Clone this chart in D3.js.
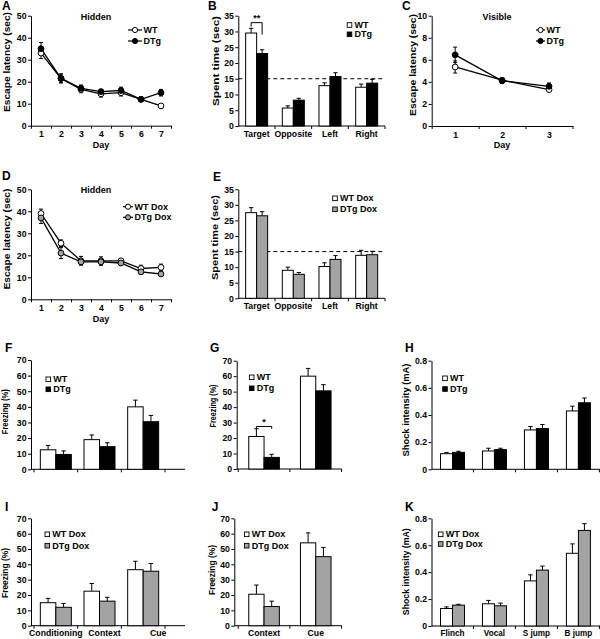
<!DOCTYPE html>
<html><head><meta charset="utf-8">
<script src="https://cdn.jsdelivr.net/npm/d3@7"></script>
<style>
body{margin:0;background:#fff}
svg{display:block;font-family:"Liberation Sans",Arial,sans-serif;font-weight:bold}
</style>
</head><body>
<svg id="c" width="600" height="639"></svg>
<script>
// ---------- DATA ----------
const days7 = [1,2,3,4,5,6,7];
const days3 = [1,2,3];
const hiddenWT = [33, 21.5, 16.5, 14.5, 15, 12, 9];
const hiddenWTErr = [2.5, 2, 1.5, 1.5, 1.5, 1, 0.5];
const hiddenDTg = [35, 21.5, 17, 15.5, 16, 12, 15];
const hiddenDTgErr = [2.8, 2, 1.5, 1, 1.5, 1, 1.5];
const visibleWT = [5.35, 4.15, 3.3];
const visibleWTErr = [0.55, 0.2, 0.15];
const visibleDTg = [6.45, 4.1, 3.6];
const visibleDTgErr = [0.7, 0.25, 0.3];
const hiddenDoxWT = [39, 25.5, 17.5, 17.5, 17.5, 14, 14.5];
const hiddenDoxWTErr = [2, 1.5, 2, 1.8, 1, 1.5, 1.5];
const hiddenDoxDTg = [37, 21, 17, 17, 16.5, 12.5, 11.5];
const hiddenDoxDTgErr = [2.5, 2.5, 1.2, 1.5, 1, 1, 1];

const quadrants = ['Target','Opposite','Left','Right'];
const probeWT = [29.5, 5.7, 12.8, 12.3];
const probeWTErr = [1.5, 0.7, 0.9, 1];
const probeDTg = [23, 8.2, 15.7, 13.6];
const probeDTgErr = [1.2, 0.6, 1.2, 1.2];
const probeDoxWT = [27.5, 9, 10.2, 13.8];
const probeDoxWTErr = [1.6, 1, 1.2, 1.6];
const probeDoxDTg = [26.5, 7.7, 12.5, 14];
const probeDoxDTgErr = [1.3, 0.6, 1.2, 1.1];

const fearCats = ['Conditioning','Context','Cue'];
const fearWT = [12.5, 19, 40];
const fearWTErr = [2.8, 3, 4.3];
const fearDTg = [9.5, 14.5, 30.5];
const fearDTgErr = [2.3, 2.5, 4];
const fear2Cats = ['Context','Cue'];
const fear2WT = [21, 60];
const fear2WTErr = [5, 5];
const fear2DTg = [7.5, 50.5];
const fear2DTgErr = [2, 4];
const shockCats = ['Flinch','Vocal','S jump','B jump'];
const shockWT = [0.115, 0.135, 0.29, 0.43];
const shockWTErr = [0.008, 0.02, 0.025, 0.035];
const shockDTg = [0.125, 0.145, 0.3, 0.49];
const shockDTgErr = [0.008, 0.01, 0.03, 0.035];

const fearDoxWT = [15, 22.5, 36.5];
const fearDoxWTErr = [2.8, 5, 5.5];
const fearDoxDTg = [12, 16, 35.5];
const fearDoxDTgErr = [2.5, 2.5, 5];
const fear2DoxWT = [20.5, 54];
const fear2DoxWTErr = [6, 6.5];
const fear2DoxDTg = [12.5, 45];
const fear2DoxDTgErr = [3.5, 6];
const shockDoxWT = [0.13, 0.165, 0.335, 0.54];
const shockDoxWTErr = [0.012, 0.025, 0.045, 0.07];
const shockDoxDTg = [0.155, 0.15, 0.415, 0.71];
const shockDoxDTgErr = [0.006, 0.02, 0.03, 0.05];

const ticks50 = [0,10,20,30,40,50];
const ticks10 = [0,2,4,6,8,10];
const ticks35 = [0,5,10,15,20,25,30,35];
const ticks70 = [0,10,20,30,40,50,60,70];
const ticks08 = [0,0.2,0.4,0.6,0.8];

// ---------- STYLE ----------
const GRAY = '#a3a3a3';
const TICKFS = 8.7;
const svg = d3.select('#c');

function styleAxis(g, fs) {
  g.attr('font-family', null).attr('font-size', null);
  g.selectAll('text').attr('font-size', fs).attr('fill', '#000');
  g.select('.domain').attr('stroke', '#000');
  g.selectAll('.tick line').attr('stroke', '#000');
}

function yLabel(g, c) {
  g.append('text').attr('transform', `translate(${c.ylx},${c.yly}) rotate(-90)`)
    .attr('text-anchor', 'middle').attr('dy', '0.35em')
    .attr('font-size', c.ylfs || 9.5)
    .attr('textLength', c.yllen).attr('lengthAdjust', 'spacingAndGlyphs')
    .text(c.ylabel);
}
function letter(g, c) {
  g.append('text').attr('x', c.lx).attr('y', c.ly).attr('font-size', 12).text(c.letter);
}

// ---------- LINE PANELS ----------
function linePanel(c) {
  const g = svg.append('g');
  const n = c.days.length;
  const x = d3.scaleLinear().domain([0.5, n + 0.5]).range([c.x0, c.x1]);
  const y = d3.scaleLinear().domain([0, c.ymax]).range([c.yb, c.yt]);
  const ya = g.append('g').attr('transform', `translate(${c.x0},0)`)
    .call(d3.axisLeft(y).tickValues(c.yticks).tickSize(3).tickSizeOuter(0).tickPadding(1.5));
  styleAxis(ya, TICKFS);
  const xa = g.append('g').attr('transform', `translate(0,${c.yb})`)
    .call(d3.axisBottom(x).tickValues(d3.range(0.5, n + 1, 1)).tickSize(3).tickSizeOuter(0).tickFormat(''));
  styleAxis(xa, TICKFS);
  const xl = g.append('g').attr('transform', `translate(0,${c.yb})`)
    .call(d3.axisBottom(x).tickValues(c.days).tickSize(0).tickPadding(5.5).tickFormat(d3.format('d')));
  xl.select('.domain').remove();
  styleAxis(xl, TICKFS);
  g.append('text').attr('x', x((n + 1) / 2)).attr('y', c.yb + 22.3).attr('text-anchor', 'middle')
    .attr('font-size', 9).text('Day');
  g.append('text').attr('x', c.tx).attr('y', c.ty).attr('text-anchor', 'middle')
    .attr('font-size', 9).text(c.title);
  yLabel(g, c);
  letter(g, c);
  const line = d3.line().x((d, i) => x(c.days[i])).y(d => y(d));
  c.series.forEach(s => {
    g.append('path').datum(s.values).attr('d', line).attr('fill', 'none')
      .attr('stroke', s.stroke).attr('stroke-width', 1.3);
  });
  c.series.forEach(s => {
    s.values.forEach((v, i) => {
      const xx = x(c.days[i]);
      g.append('line').attr('x1', xx).attr('x2', xx).attr('y1', y(v - s.err[i])).attr('y2', y(v + s.err[i]))
        .attr('stroke', '#000').attr('stroke-width', 1);
      [v - s.err[i], v + s.err[i]].forEach(e => {
        g.append('line').attr('x1', xx - 2).attr('x2', xx + 2).attr('y1', y(e)).attr('y2', y(e))
          .attr('stroke', '#000').attr('stroke-width', 1);
      });
    });
  });
  c.series.forEach(s => {
    g.selectAll(null).data(s.values).enter().append('circle')
      .attr('cx', (d, i) => x(c.days[i])).attr('cy', d => y(d)).attr('r', 2.9)
      .attr('fill', s.fill).attr('stroke', '#000').attr('stroke-width', 1);
  });
  // legend
  c.series.forEach((s, i) => {
    const ly = c.legY[i];
    g.append('line').attr('x1', c.legX).attr('x2', c.legX + c.legW).attr('y1', ly).attr('y2', ly)
      .attr('stroke', '#000').attr('stroke-width', 1.2);
    g.append('circle').attr('cx', c.legX + c.legW / 2).attr('cy', ly).attr('r', 2.6)
      .attr('fill', s.fill).attr('stroke', '#000').attr('stroke-width', 1);
    g.append('text').attr('x', c.legX + c.legW + 1.5).attr('y', ly).attr('dy', '0.35em')
      .attr('font-size', 9).text(s.name);
  });
}

// ---------- BAR PANELS ----------
function barPanel(c) {
  const g = svg.append('g');
  const x = d3.scaleBand().domain(c.cats).range([c.r0, c.r1]);
  const y = d3.scaleLinear().domain([0, c.ymax]).range([c.yb, c.yt]);
  const ya = g.append('g').attr('transform', `translate(${c.x0},0)`)
    .call(d3.axisLeft(y).tickValues(c.yticks).tickSize(3).tickSizeOuter(0).tickPadding(1.5)
      .tickFormat(c.yfmt || d3.format('d')));
  styleAxis(ya, TICKFS);
  g.append('line').attr('x1', c.x0).attr('x2', c.xEnd).attr('y1', c.yb).attr('y2', c.yb).attr('stroke', '#000');
  const bounds = c.cats.map(k => x(k)).concat([c.r1]).filter(v => v > c.x0 + 1);
  bounds.forEach(b => g.append('line').attr('x1', b).attr('x2', b).attr('y1', c.yb).attr('y2', c.yb + 3).attr('stroke', '#000'));
  const clipId = 'clip' + c.letter;
  if (c.clipY) {
    g.append('clipPath').attr('id', clipId).append('rect').attr('x', c.x0 - 40).attr('y', c.yb)
      .attr('width', 260).attr('height', c.clipY - c.yb);
  }
  const xl = g.append('g').attr('transform', `translate(0,${c.yb})`)
    .call(d3.axisBottom(x).tickSize(0).tickPadding(4.5));
  xl.select('.domain').remove();
  styleAxis(xl, c.xfs || TICKFS);
  if (c.labelDx) xl.selectAll('.tick text').attr('dx', (d, i) => c.labelDx[i]);
  if (c.clipY) xl.attr('clip-path', `url(#${clipId})`);
  yLabel(g, c);
  letter(g, c);
  if (c.refLine != null) {
    g.append('line').attr('x1', c.x0).attr('x2', c.xEnd).attr('y1', y(c.refLine)).attr('y2', y(c.refLine))
      .attr('stroke', '#000').attr('stroke-width', 1).attr('stroke-dasharray', '4,3');
  }
  c.series.forEach((s, si) => {
    s.values.forEach((v, i) => {
      const cx = x(c.cats[i]) + x.bandwidth() / 2;
      const bx = si === 0 ? cx - c.bw : cx;
      const mid = bx + c.bw / 2;
      g.append('line').attr('x1', mid).attr('x2', mid).attr('y1', y(v)).attr('y2', y(v + s.err[i]))
        .attr('stroke', '#000').attr('stroke-width', 1);
      g.append('line').attr('x1', mid - 2.2).attr('x2', mid + 2.2).attr('y1', y(v + s.err[i])).attr('y2', y(v + s.err[i]))
        .attr('stroke', '#000').attr('stroke-width', 1);
      g.append('rect').attr('x', bx).attr('y', y(v)).attr('width', c.bw).attr('height', y(0) - y(v))
        .attr('fill', s.fill).attr('stroke', '#000').attr('stroke-width', 1);
    });
  });
  // legend
  c.series.forEach((s, i) => {
    const ly = c.legY[i];
    g.append('rect').attr('x', c.legX - 2.3).attr('y', ly - 2.3).attr('width', 4.6).attr('height', 4.6)
      .attr('fill', s.fill).attr('stroke', '#000').attr('stroke-width', 0.9);
    g.append('text').attr('x', c.legX + 5).attr('y', ly).attr('dy', '0.35em').attr('font-size', 9).text(s.name);
  });
  // significance
  if (c.sig) {
    const s = c.sig;
    const cx = x(s.cat) + x.bandwidth() / 2;
    const xa1 = cx - c.bw / 2, xa2 = cx + c.bw / 2;
    const top = y(s.level);
    g.append('path').attr('d', `M${xa1},${y(s.leftEnd)}V${top}H${xa2}V${y(s.rightEnd)}`)
      .attr('fill', 'none').attr('stroke', '#000').attr('stroke-width', 1);
    g.append('text').attr('x', cx).attr('y', top - 1.5).attr('text-anchor', 'middle').attr('font-size', 9).text(s.mark);
  }
}

const fmt08 = d => d === 0 ? '0' : d3.format('.1f')(d);

// A
linePanel({letter:'A', lx:2, ly:10, title:'Hidden', tx:96, ty:20, days:days7,
  x0:31, x1:171, yb:125.7, yt:15.7, ymax:50, yticks:ticks50,
  ylabel:'Escape latency (sec)', ylx:6.5, yly:62, yllen:100,
  legX:128, legW:14, legY:[30, 41],
  series:[{name:'WT', values:hiddenWT, err:hiddenWTErr, fill:'#fff', stroke:'#000'},
          {name:'DTg', values:hiddenDTg, err:hiddenDTgErr, fill:'#000', stroke:'#000'}]});
// C
linePanel({letter:'C', lx:402, ly:10, title:'Visible', tx:497, ty:20, days:days3,
  x0:431.7, x1:572.5, yb:126, yt:15.7, ymax:10, yticks:ticks10,
  ylabel:'Escape latency (sec)', ylx:413, yly:65, yllen:102,
  legX:536, legW:9, legY:[30, 41],
  series:[{name:'WT', values:visibleWT, err:visibleWTErr, fill:'#fff', stroke:'#000'},
          {name:'DTg', values:visibleDTg, err:visibleDTgErr, fill:'#000', stroke:'#000'}]});
// D
linePanel({letter:'D', lx:2, ly:180, title:'Hidden', tx:96, ty:193, days:days7,
  x0:31, x1:171, yb:299.3, yt:189.3, ymax:50, yticks:ticks50,
  ylabel:'Escape latency (sec)', ylx:6.5, yly:239, yllen:101,
  legX:123, legW:10, legY:[206.7, 217.3],
  series:[{name:'WT Dox', values:hiddenDoxWT, err:hiddenDoxWTErr, fill:'#fff', stroke:'#000'},
          {name:'DTg Dox', values:hiddenDoxDTg, err:hiddenDoxDTgErr, fill:GRAY, stroke:'#000'}]});

// B
barPanel({letter:'B', lx:208, ly:10, cats:quadrants, x0:238.3, r0:238.3, r1:385, xEnd:385,
  yb:126, yt:15.7, ymax:35, yticks:ticks35, bw:11, refLine:15,
  ylabel:'Spent time (sec)', ylx:215.7, yly:61, yllen:90,
  legX:349.5, legY:[25, 34.3],
  sig:{cat:'Target', level:32.8, leftEnd:31.5, rightEnd:29, mark:'**'},
  series:[{name:'WT', values:probeWT, err:probeWTErr, fill:'#fff'},
          {name:'DTg', values:probeDTg, err:probeDTgErr, fill:'#000'}]});
// E
barPanel({letter:'E', lx:213, ly:181, cats:quadrants, x0:238.3, r0:238.3, r1:385, xEnd:385,
  yb:298.3, yt:189.3, ymax:35, yticks:ticks35, bw:11, refLine:15,
  ylabel:'Spent time (sec)', ylx:215, yly:237.5, yllen:85,
  legX:335, legY:[198.3, 209.3],
  series:[{name:'WT Dox', values:probeDoxWT, err:probeDoxWTErr, fill:'#fff'},
          {name:'DTg Dox', values:probeDoxDTg, err:probeDoxDTgErr, fill:GRAY}]});
// F
barPanel({letter:'F', lx:5, ly:352, cats:fearCats, x0:31, r0:34, r1:165, xEnd:185,
  yb:469.3, yt:360, ymax:70, yticks:ticks70, bw:15.5, clipY:480, labelDx:[0, 5, 15],
  ylabel:'Freezing (%)', ylx:5.5, yly:411.7, yllen:45, ylfs:8.5,
  legX:48.3, legY:[379.3, 389.3],
  series:[{name:'WT', values:fearWT, err:fearWTErr, fill:'#fff'},
          {name:'DTg', values:fearDTg, err:fearDTgErr, fill:'#000'}]});
// G
barPanel({letter:'G', lx:210, ly:352, cats:fear2Cats, x0:236.7, r0:238.2, r1:341.6, xEnd:341.7,
  yb:469, yt:360.7, ymax:70, yticks:ticks70, bw:15.3, clipY:480,
  ylabel:'Freezing (%)', ylx:213.3, yly:406, yllen:43, ylfs:8.5,
  legX:251.7, legY:[377.3, 388.3],
  sig:{cat:'Context', level:27.5, leftEnd:26, rightEnd:26, mark:'*'},
  series:[{name:'WT', values:fear2WT, err:fear2WTErr, fill:'#fff'},
          {name:'DTg', values:fear2DTg, err:fear2DTgErr, fill:'#000'}]});
// H
barPanel({letter:'H', lx:405, ly:352, cats:shockCats, x0:431.5, r0:431.5, r1:599.4, xEnd:600,
  yb:469.3, yt:360.7, ymax:0.8, yticks:ticks08, yfmt:fmt08, bw:12, clipY:480, xfs:8.2,
  ylabel:'Shock intensity (mA)', ylx:406, yly:410, yllen:93,
  legX:445, legY:[378.3, 389],
  series:[{name:'WT', values:shockWT, err:shockWTErr, fill:'#fff'},
          {name:'DTg', values:shockDTg, err:shockDTgErr, fill:'#000'}]});
// I
barPanel({letter:'I', lx:5, ly:511, cats:fearCats, x0:31, r0:34, r1:165, xEnd:185, labelDx:[0, 5, 15],
  yb:625.7, yt:518.3, ymax:70, yticks:ticks70, bw:15.5,
  ylabel:'Freezing (%)', ylx:5.5, yly:573, yllen:50, ylfs:8.5,
  legX:47.3, legY:[534.3, 545.7],
  series:[{name:'WT Dox', values:fearDoxWT, err:fearDoxWTErr, fill:'#fff'},
          {name:'DTg Dox', values:fearDoxDTg, err:fearDoxDTgErr, fill:GRAY}]});
// J
barPanel({letter:'J', lx:211.7, ly:511, cats:fear2Cats, x0:234.3, r0:238.2, r1:341.6, xEnd:341.7,
  yb:625.7, yt:518.3, ymax:70, yticks:ticks70, bw:15.3,
  ylabel:'Freezing (%)', ylx:212.3, yly:570, yllen:50, ylfs:8.5,
  legX:246.7, legY:[534.3, 545.7],
  series:[{name:'WT Dox', values:fear2DoxWT, err:fear2DoxWTErr, fill:'#fff'},
          {name:'DTg Dox', values:fear2DoxDTg, err:fear2DoxDTgErr, fill:GRAY}]});
// K
barPanel({letter:'K', lx:405, ly:511, cats:shockCats, x0:431.5, r0:431.5, r1:599.4, xEnd:600,
  yb:626, yt:518.3, ymax:0.8, yticks:ticks08, yfmt:fmt08, bw:12, xfs:8.2,
  ylabel:'Shock intensity (mA)', ylx:405.5, yly:571.7, yllen:87,
  legX:440.7, legY:[534.3, 544],
  series:[{name:'WT Dox', values:shockDoxWT, err:shockDoxWTErr, fill:'#fff'},
          {name:'DTg Dox', values:shockDoxDTg, err:shockDoxDTgErr, fill:GRAY}]});
</script>
</body></html>
